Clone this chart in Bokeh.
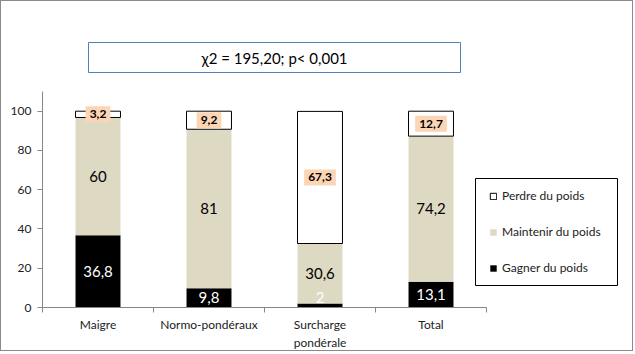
from bokeh.plotting import figure
from bokeh.models import (ColumnDataSource, Range1d, FixedTicker, BoxAnnotation,
                          Label, Legend, LegendItem)
from bokeh.core.properties import value
from bokeh.embed import file_html
from bokeh.resources import INLINE

# ---- data ----
categories = ["Maigre", "Normo-pondéraux", "Surcharge\npondérale", "Total"]
gagner = [36.8, 9.8, 2, 13.1]
maintenir = [60, 81, 30.6, 74.2]
perdre = [3.2, 9.2, 67.3, 12.7]
series_names = ["Perdre du poids", "Maintenir du poids", "Gagner du poids"]
y_ticks = [0, 20, 40, 60, 80, 100]
annotation_text = "χ2 = 195,20; p< 0,001"

FONT = "Lato"
TAN = "#DDD9C3"
PEACH = "#FCD5B5"
AXIS = "#868686"

n = len(categories)
xs = [i + 0.5 for i in range(n)]


def fmt(v):
    return f"{v:g}".replace(".", ",")


g_top = gagner
m_top = [g + m for g, m in zip(gagner, maintenir)]
p_top = [mt + p for mt, p in zip(m_top, perdre)]

src = ColumnDataSource(dict(
    x=xs,
    g_bottom=[0] * n, g_top=g_top,
    m_bottom=g_top, m_top=m_top,
    p_bottom=m_top, p_top=p_top,
    g_y=[max(g / 2, 5) for g in gagner],
    m_y=[g + m / 2 for g, m in zip(gagner, maintenir)],
    p_y=[mt + p / 2 for mt, p in zip(m_top, perdre)],
    g_txt=[fmt(v) for v in gagner],
    m_txt=[fmt(v) for v in maintenir],
    p_txt=[fmt(v) for v in perdre],
))

p = figure(width=633, height=351,
           x_range=Range1d(0, 587 / 111), y_range=Range1d(0, 297 / 1.963),
           output_backend="svg", toolbar_location=None,
           min_border_left=41, min_border_right=5,
           min_border_top=9, min_border_bottom=45)
p.styles = {"border": "1px solid #8a8a8a"}
p.outline_line_color = None
p.xgrid.visible = False
p.ygrid.visible = False
p.background_fill_color = "white"
p.border_fill_color = "white"

W = 0.405
rg = p.vbar(x="x", bottom="g_bottom", top="g_top", width=W, source=src,
            fill_color="black", line_color=None)
rm = p.vbar(x="x", bottom="m_bottom", top="m_top", width=W, source=src,
            fill_color=TAN, line_color=None)
rp = p.vbar(x="x", bottom="p_bottom", top="p_top", width=W, source=src,
            fill_color="white", line_color="black", line_width=1)

# value labels
p.text(x="x", y="g_y", text="g_txt", source=src, text_align="center",
       text_baseline="middle", text_color="white",
       text_font=value(FONT), text_font_size="15px")
p.text(x="x", y="m_y", text="m_txt", source=src, text_align="center",
       text_baseline="middle", text_color="black",
       text_font=value(FONT), text_font_size="15px")
p.text(x="x", y="p_y", text="p_txt", source=src, text_align="center",
       text_baseline="middle", text_color="black", text_font_style="bold",
       text_font=value(FONT), text_font_size="12px",
       background_fill_color=PEACH, padding=4)

# axes
xa = p.xaxis[0]
xa.ticker = FixedTicker(ticks=xs, minor_ticks=list(range(n + 1)))
xa.major_label_overrides = {x: c for x, c in zip(xs, categories)}
xa.bounds = (0, n)
xa.axis_line_color = AXIS
xa.major_tick_line_color = None
xa.major_tick_out = 0
xa.minor_tick_line_color = AXIS
xa.minor_tick_in = 0
xa.minor_tick_out = 5
xa.major_label_standoff = 4
xa.major_label_text_font = FONT
xa.major_label_text_font_size = "12px"
xa.major_label_text_color = "#222222"

ya = p.yaxis[0]
ya.ticker = FixedTicker(ticks=y_ticks, minor_ticks=[])
ya.bounds = (0, 110)
ya.axis_line_color = AXIS
ya.major_tick_line_color = AXIS
ya.major_tick_in = 0
ya.major_tick_out = 5
ya.minor_tick_line_color = None
ya.major_label_standoff = 6
ya.major_label_text_font = FONT
ya.major_label_text_font_size = "12px"
ya.major_label_text_color = "#222222"

# chi-square box
p.add_layout(BoxAnnotation(left=46, right=418, bottom=235, top=265,
                           left_units="screen", right_units="screen",
                           bottom_units="screen", top_units="screen",
                           fill_color="white", fill_alpha=1,
                           line_color="#4F81BD", line_width=1, line_alpha=1,
                           level="overlay"))
p.add_layout(Label(x=232, y=250, x_units="screen", y_units="screen",
                   text=annotation_text, text_align="center",
                   text_baseline="middle", text_font=FONT,
                   text_font_size="15px", text_color="black", level="overlay"))

# legend box
p.add_layout(BoxAnnotation(left=433, right=575, bottom=22, top=129,
                           left_units="screen", right_units="screen",
                           bottom_units="screen", top_units="screen",
                           fill_color="white", fill_alpha=1,
                           line_color="black", line_width=1, line_alpha=1))
legend = Legend(items=[LegendItem(label=series_names[0], renderers=[rp]),
                       LegendItem(label=series_names[1], renderers=[rm]),
                       LegendItem(label=series_names[2], renderers=[rg])],
                location=(447, 32), orientation="vertical",
                glyph_width=8, glyph_height=8, label_height=15,
                spacing=21, padding=0, margin=0, label_standoff=5,
                border_line_color=None, background_fill_alpha=0,
                label_text_font=FONT, label_text_font_size="12px",
                label_text_color="#222222")
p.add_layout(legend)

open("out.html", "w").write(file_html(p, INLINE))
